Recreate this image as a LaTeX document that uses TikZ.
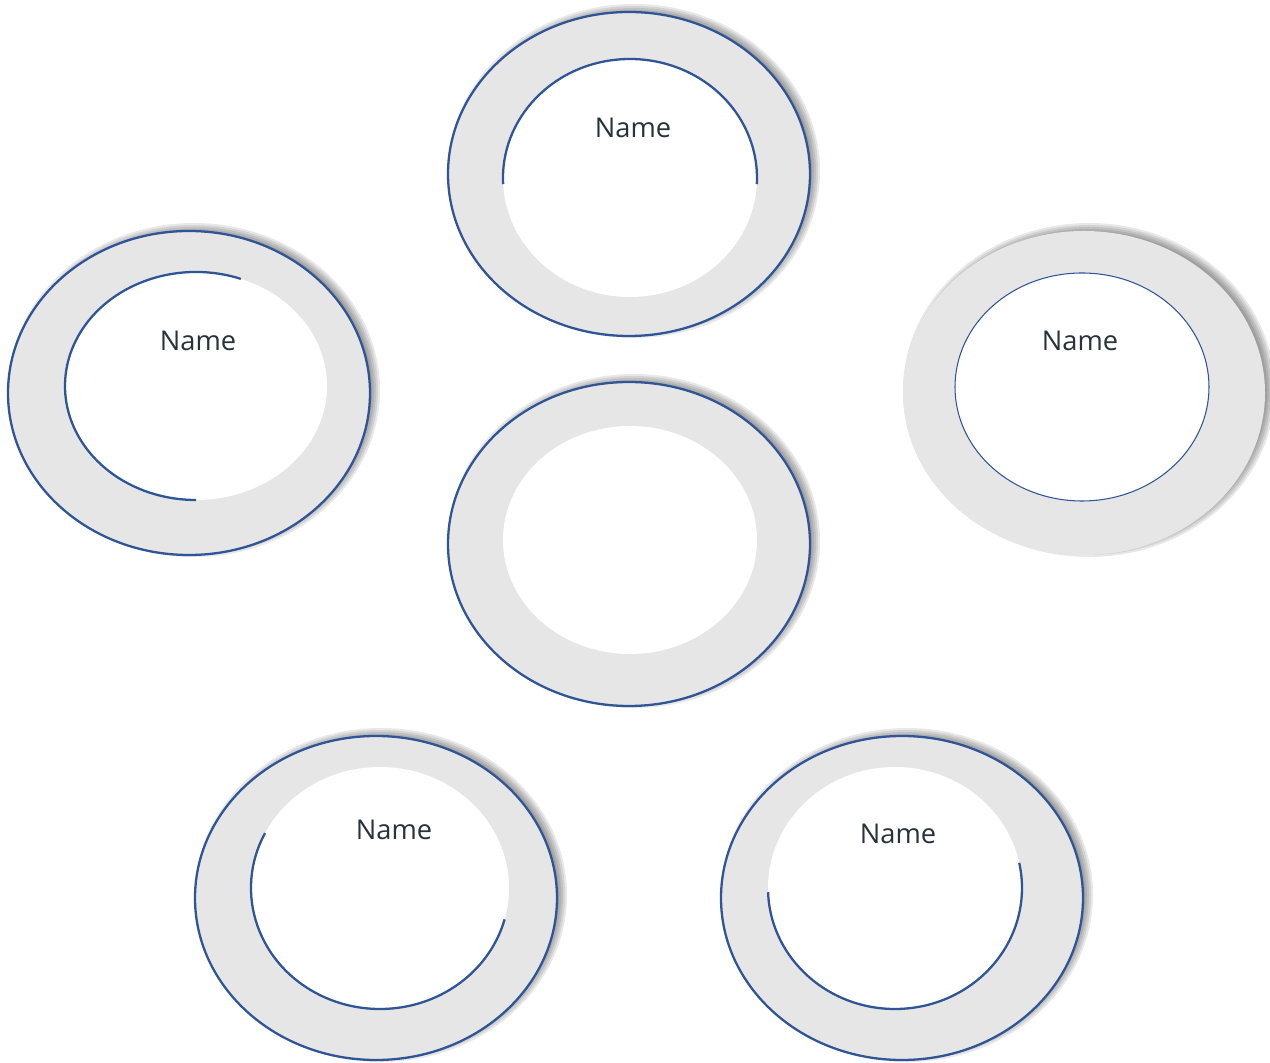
\documentclass[tikz,border=0pt]{standalone}
\usepackage{fontspec}
\setmainfont{Open Sans}
\usepackage{xcolor}
\usepackage{tikz}
\usetikzlibrary{positioning}
\definecolor{ringblue}{RGB}{47, 85, 151}
\definecolor{ringgrey}{RGB}{230, 230, 230}
\definecolor{namegrey}{RGB}{40, 50, 58}

\begin{document}
\begin{tikzpicture}[
  ringfill/.style={fill=ringgrey},
  ringline/.style={draw=ringblue, line width=1.3pt},
  thinline/.style={draw=ringblue, line width=0.6pt},
  nametext/.style={text=namegrey, font=\fontsize{15.5}{18}\selectfont}
]
  \useasboundingbox (0,0) rectangle (25.4,21.24);

  % Top ring
  \begin{scope}[shift={(12.58,17.76)}]
    \foreach \k in {0,...,4} {
      \fill[black, opacity=0.09] (0.1,0.06) ellipse ({3.56+0.04*\k} and {3.18+0.04*\k});
    }
    \filldraw[ringfill, ringline] (0,0) ellipse (3.62 and 3.24);
    \fill[white] (0.02,-0.08) ellipse (2.54 and 2.38);
    \draw[ringline] (0.02,-0.08) ++(183:2.54 and 2.38) arc (183:-3:2.54 and 2.38);
    \node[nametext] (nameTop) at (0.08,0.92) {Name};
  \end{scope}

  % Left ring
  \begin{scope}[shift={(3.78,13.38)}]
    \foreach \k in {0,...,4} {
      \fill[black, opacity=0.09] (0.1,0.06) ellipse ({3.56+0.04*\k} and {3.18+0.04*\k});
    }
    \filldraw[ringfill, ringline] (0,0) ellipse (3.62 and 3.24);
    \fill[white] (0.14,0.14) ellipse (2.62 and 2.28);
    \draw[ringline] (0.14,0.14) ++(70:2.62 and 2.28) arc (70:270:2.62 and 2.28);
    \node[nametext] (nameLeft) at (0.18,1.04) {Name};
  \end{scope}

  % Right ring
  \begin{scope}[shift={(21.68,13.38)}]
    \foreach \k in {0,...,4} {
      \fill[black, opacity=0.09] (0.1,0.06) ellipse ({3.56+0.04*\k} and {3.18+0.04*\k});
    }
    \fill[ringfill] (0,0) ellipse (3.62 and 3.24);
    \filldraw[fill=white, thinline] (-0.04,0.12) ellipse (2.54 and 2.28);
    \node[nametext] (nameRight) at (-0.08,1.04) {Name};
  \end{scope}

  % Centre ring
  \begin{scope}[shift={(12.58,10.36)}]
    \foreach \k in {0,...,4} {
      \fill[black, opacity=0.09] (0.1,0.06) ellipse ({3.56+0.04*\k} and {3.18+0.04*\k});
    }
    \filldraw[ringfill, ringline] (0,0) ellipse (3.62 and 3.24);
    \fill[white] (0.02,0.08) ellipse (2.54 and 2.28);
  \end{scope}

  % Bottom left ring
  \begin{scope}[shift={(7.52,3.28)}]
    \foreach \k in {0,...,4} {
      \fill[black, opacity=0.09] (0.1,0.06) ellipse ({3.56+0.04*\k} and {3.18+0.04*\k});
    }
    \filldraw[ringfill, ringline] (0,0) ellipse (3.62 and 3.24);
    \fill[white] (0.08,0.2) ellipse (2.58 and 2.42);
    \draw[ringline] (0.08,0.2) ++(153:2.58 and 2.42) arc (153:345:2.58 and 2.42);
    \node[nametext] (nameBottomLeft) at (0.36,1.36) {Name};
  \end{scope}

  % Bottom right ring
  \begin{scope}[shift={(18.04,3.28)}]
    \foreach \k in {0,...,4} {
      \fill[black, opacity=0.09] (0.1,0.06) ellipse ({3.56+0.04*\k} and {3.18+0.04*\k});
    }
    \filldraw[ringfill, ringline] (0,0) ellipse (3.62 and 3.24);
    \fill[white] (-0.14,0.2) ellipse (2.54 and 2.42);
    \draw[ringline] (-0.14,0.2) ++(182:2.54 and 2.42) arc (182:372:2.54 and 2.42);
    \node[nametext] (nameBottomRight) at (-0.08,1.28) {Name};
  \end{scope}
\end{tikzpicture}
\end{document}
